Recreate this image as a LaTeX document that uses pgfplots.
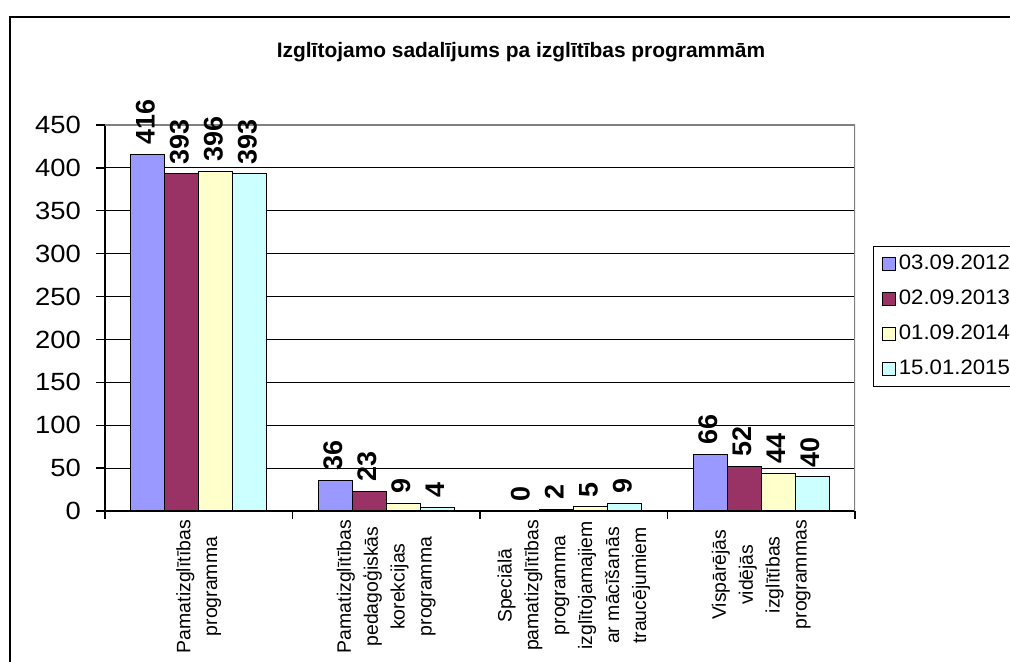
\documentclass[border=0pt]{standalone}
\usepackage{fontspec}
\setmainfont{Liberation Sans}
\newfontfamily\widefont[FakeStretch=1.1]{Liberation Sans}
\newfontfamily\legfont[FakeStretch=1.06]{Liberation Sans}
\usepackage{pgfplots}
\pgfplotsset{compat=1.18}
\definecolor{sA}{HTML}{9999FF}
\definecolor{sB}{HTML}{993366}
\definecolor{sC}{HTML}{FFFFCC}
\definecolor{sD}{HTML}{CCFFFF}
\begin{document}
\begin{tikzpicture}[x=1bp,y=1bp]
\path[use as bounding box] (0,0) rectangle (1010,662);
\begin{scope}
\clip (0,0) rectangle (1010,662);
\draw[line width=2bp] (10,-20) rectangle (1040,645);
\node[font=\bfseries\fontsize{21}{24}\selectfont] at (521,610) {Izglītojamo sadalījums pa izglītības programmām};
\begin{axis}[
  at={(105bp,151bp)}, anchor=south west,
  width=750bp, height=386bp, scale only axis,
  xmin=-0.5, xmax=3.5, ymin=0, ymax=450,
  /pgf/number format/assume math mode=true,
  ybar=0pt, bar width=34bp,
  every axis plot/.append style={draw=black, line width=1.2bp,
    legend image code/.code={\draw[##1, line width=1.2bp] (0bp,-6.5bp) rectangle (13bp,6.5bp);}},
  axis x line*=bottom, axis y line*=left,
  axis line style={line width=1.5bp, -},
  tick align=outside,
  major tick length=9bp, minor tick length=8bp,
  tick style={line width=1.3bp, black},
  every major x tick/.append style={draw=none},
  xtick={0,1,2,3},
  minor xtick={-0.5,0.5,1.5,2.5,3.5},
  xticklabels={{Pamatizglītības\\programma},
               {Pamatizglītības\\pedagoģiskās\\korekcijas\\programma},
               {Speciālā\\pamatizglītības\\programma\\izglītojamajiem\\ar mācīšanās\\traucējumiem},
               {Vispārējās\\vidējās\\izglītības\\programmas}},
  x tick label style={rotate=90, anchor=east, align=center, font=\fontsize{19.5}{27}\selectfont, inner sep=0pt},
  ytick={0,50,...,450},
  y tick label style={font=\widefont\fontsize{25}{28}\selectfont, anchor=east, inner sep=0pt, xshift=-15bp},
  ymajorgrids, grid style={black, line width=1bp},
  nodes near coords,
  nodes near coords style={rotate=90, anchor=west, font=\bfseries\fontsize{27}{30}\selectfont, inner xsep=9bp, text depth=5bp, black},
  legend style={at={(1.024,0.6865)}, anchor=north west, draw=black, line width=1.3bp,
    font=\legfont\fontsize{21}{24}\selectfont, inner xsep=8bp, inner ysep=5bp, row sep=10bp,
    nodes={inner sep=3bp, text height=15bp, text depth=4bp}},
  legend cell align=left,
]
\addplot[fill=sA] coordinates {(0,416) (1,36) (2,0) (3,66)};
\addplot[fill=sB] coordinates {(0,393) (1,23) (2,2) (3,52)};
\addplot[fill=sC] coordinates {(0,396) (1,9) (2,5) (3,44)};
\addplot[fill=sD] coordinates {(0,393) (1,4) (2,9) (3,40)};
\legend{03.09.2012,02.09.2013,01.09.2014,15.01.2015}
\draw[gray, line width=2bp] (rel axis cs:0,1) -- (rel axis cs:1,1) -- (rel axis cs:1,0);
\end{axis}
\end{scope}
\end{tikzpicture}
\end{document}
